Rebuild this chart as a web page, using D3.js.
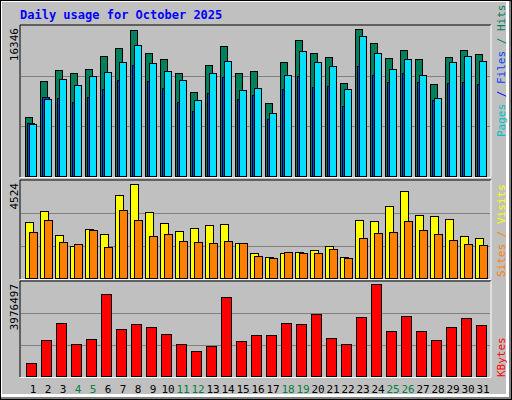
<!DOCTYPE html>
<html><head><meta charset="utf-8">
<script src="https://cdn.jsdelivr.net/npm/d3@7"></script>
<style>body{margin:0;background:#fff}svg{display:block}text{font-family:"DejaVu Sans Mono",monospace}</style>
</head><body><div id="chart"></div>
<script>
// daily values, October 2025
const days = d3.range(1, 32);
const weekend = [4, 5, 11, 12, 18, 19, 25, 26];
const hits = [6627,10603,11818,11487,11929,13364,14248,16236,13696,13033,11487,9388,12370,14469,11487,11708,8173,12702,15132,13696,13254,10382,16346,14800,13144,14027,13033,10272,13254,14027,13585];
const files = [5854,8615,10824,10161,11155,11597,12702,14579,12591,11708,10714,8505,11487,12812,9609,9830,7069,11266,13917,12702,12260,9720,15573,13696,11929,13033,11266,8726,12702,13364,12812];
const pages = [5964,8836,8726,8284,8836,9720,10714,12370,10603,9830,8284,7290,9278,11045,8615,9057,6406,9720,11155,9941,10051,7842,12260,11266,10493,11487,10493,8505,10382,10493,10272];
const visits = [2698,3241,2106,1563,2402,2155,3981,4524,3191,2648,2303,2451,2550,2599,1711,1217,1069,1217,1267,1365,1563,1069,2797,2747,3487,4178,3043,2994,2846,2056,1958];
const sites = [2254,2797,1760,1661,2352,1513,3290,2797,2056,2155,1810,1760,1711,1810,1711,1119,1020,1267,1217,1217,1415,1020,1958,2204,2254,2747,2352,2155,1859,1661,1612];
const kbytes = [580512,1581895,2322048,1407742,1625434,3541123,2060818,2278510,2147894,1843126,1407742,1102973,1320665,3410508,1538357,1799587,1799587,2322048,2278510,2713894,1668972,1407742,2583278,3976497,1973741,2626817,1973741,1581895,2147894,2539740,2234971];

const W = 512, H = 400;
const svg = d3.select("#chart").append("svg").attr("width", W).attr("height", H);

// frame / bevel
svg.append("rect").attr("width", W).attr("height", H).attr("fill", "#000");
svg.append("rect").attr("x", 1).attr("y", 1).attr("width", W - 2).attr("height", H - 2).attr("fill", "#808080");
svg.append("rect").attr("x", 1).attr("y", 1).attr("width", W - 4).attr("height", H - 4).attr("fill", "#fff");
svg.append("rect").attr("x", 2).attr("y", 2).attr("width", W - 8).attr("height", H - 8).attr("fill", "#c0c0c0");

svg.append("text").attr("x", 20).attr("y", 19).attr("fill", "#0000ff")
    .attr("font-size", 12).attr("font-weight", "bold").text("Daily usage for October 2025");

const x = d3.scaleBand().domain(days).range([25, 490]);

const panels = [
    { top: 25, bottom: 177, max: d3.max(hits), label: "16346" },
    { top: 180, bottom: 279, max: d3.max(visits), label: "4524" },
    { top: 281, bottom: 377, max: d3.max(kbytes), label: "3976497" }
];

panels.forEach(p => {
    svg.append("line").attr("x1", 20).attr("x2", 491).attr("y1", p.top).attr("y2", p.top).attr("stroke", "#000");
    svg.append("line").attr("x1", 20).attr("x2", 20).attr("y1", p.top).attr("y2", p.bottom).attr("stroke", "#000");
    svg.append("line").attr("x1", 20).attr("x2", 491).attr("y1", p.bottom + 0.5).attr("y2", p.bottom + 0.5).attr("stroke", "#fff");
    svg.append("line").attr("x1", 491).attr("x2", 491).attr("y1", p.top).attr("y2", p.bottom).attr("stroke", "#fff");
    const h = p.bottom - p.top;
    [1 / 3, 2 / 3].forEach(f => {
        const yy = Math.round(p.bottom - h * f) + 0.5;
        svg.append("line").attr("x1", 21).attr("x2", 490).attr("y1", yy).attr("y2", yy).attr("stroke", "#808080");
    });
    svg.append("text").attr("transform", `translate(18,${p.top + 3}) rotate(-90)`)
        .attr("text-anchor", "end").attr("font-size", 11).attr("fill", "#000").text(p.label);
});

const yTop = d3.scaleLinear().domain([0, d3.max(hits)]).range([177, 29]);
const yMid = d3.scaleLinear().domain([0, d3.max(visits)]).range([279, 184]);
const yBot = d3.scaleLinear().domain([0, d3.max(kbytes)]).range([377, 284]);

function bars(data, y, dx, w, fill) {
    svg.append("g").selectAll("rect").data(data).join("rect")
        .attr("x", (d, i) => x(days[i]) + dx + 0.5)
        .attr("y", d => Math.round(y(d)) + 0.5)
        .attr("width", w)
        .attr("height", d => y.range()[0] - Math.round(y(d)) - 1)
        .attr("fill", fill).attr("stroke", "#000");
}
bars(hits, yTop, 0, 7, "#00805c");
bars(pages, yTop, 2, 7, "#0040ff");
bars(files, yTop, 4, 7, "#00e0ff");
bars(visits, yMid, 0, 8, "#ffff00");
bars(sites, yMid, 4, 8, "#ff8000");
bars(kbytes, yBot, 1, 10, "#ff0000");

// day labels
svg.append("g").selectAll("text").data(days).join("text")
    .attr("x", d => x(d) + 8).attr("y", 393).attr("text-anchor", "middle")
    .attr("font-size", 11).attr("fill", d => weekend.includes(d) ? "#008040" : "#000")
    .text(d => d);

// right legends
function legend(parts, yBottom) {
    const t = svg.append("text").attr("transform", `translate(505,${yBottom}) rotate(-90)`)
        .attr("font-size", 11);
    parts.forEach(([s, c]) => t.append("tspan").attr("fill", c).text(s));
}
legend([["Pages", "#00c0c0"], [" / ", "#0000ff"], ["Files", "#0040ff"], [" / ", "#00805c"], ["Hits", "#00805c"]], 137);
legend([["Sites", "#ff8000"], [" / ", "#ff8000"], ["Visits", "#ffff00"]], 277);
legend([["KBytes", "#ff0000"]], 377);
</script></body></html>
